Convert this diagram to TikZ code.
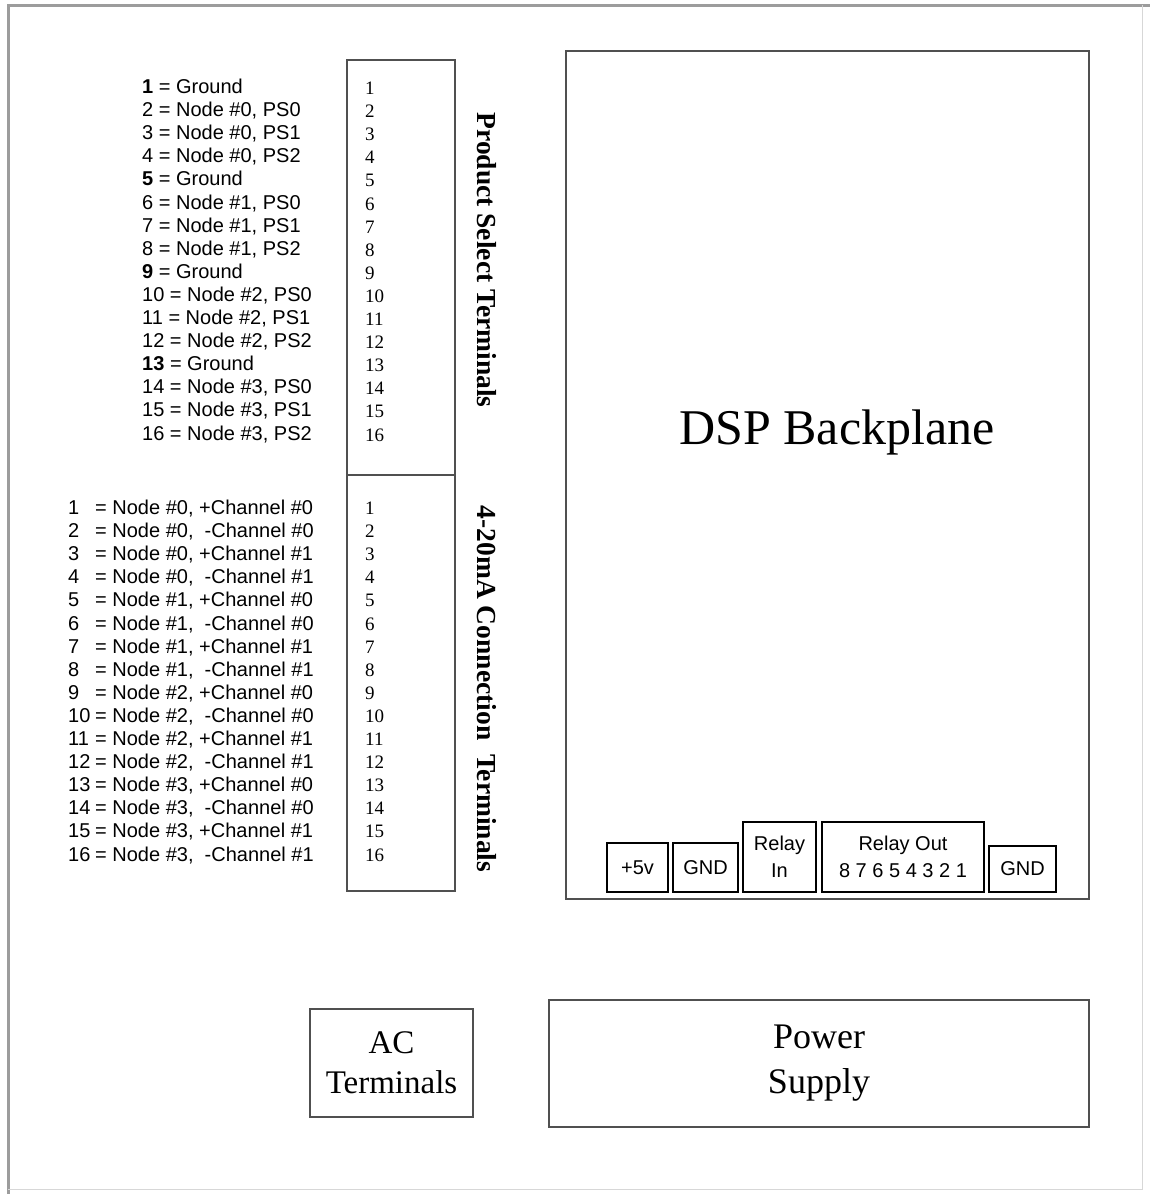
\documentclass[tikz,border=0pt]{standalone}
\usepackage{fontspec}
\setmainfont{Liberation Serif}
\setsansfont{Liberation Sans}
\usepackage{tikz}
\definecolor{framegray}{HTML}{9C9C9C}
\definecolor{boxgray}{HTML}{505050}
\begin{document}
\begin{tikzpicture}[x=1pt,y=-1pt,
  term/.style={draw=boxgray,line width=2pt,inner sep=0pt},
  pinbox/.style={draw=black,line width=1.8pt,inner sep=0pt,align=center,font=\sffamily\fontsize{20}{27}\selectfont},
  lbl/.style={anchor=west,inner sep=0pt,text height=13pt,text depth=4pt,font=\sffamily\fontsize{20}{23}\selectfont},
  num/.style={anchor=west,inner sep=0pt,text height=13pt,text depth=4pt,font=\fontsize{19}{23}\selectfont},
  title/.style={rotate=-90,inner sep=0pt,font=\bfseries\fontsize{27.5}{30}\selectfont}
]
\useasboundingbox (0,0) rectangle (1150,1194);
% outer frame
\draw[framegray,line width=3pt] (1150,5) -- (8,5) -- (8,1194);
\draw[framegray!40,line width=1pt] (1142,5) -- (1142,1189) -- (8,1189);

% terminal blocks
\node[term,minimum width=108pt,minimum height=415pt] (psbox) at (401,267.5) {};
\node[term,minimum width=108pt,minimum height=416pt] (mabox) at (401,683) {};
\node[title] (pstitle) at (487,260) {Product Select Terminals};
\node[title] (matitle) at (487,689) {4-20mA Connection\ \ Terminals};
\foreach \i in {1,...,16}{
  \node[num] (psn\i) at (365,{90+23.1*(\i-1)}) {\i};
  \node[num] (man\i) at (365,{510+23.1*(\i-1)}) {\i};
}

% product select legend
\foreach \k in {0,...,3}{
  \pgfmathtruncatemacro{\grow}{4*\k+1}
  \node[lbl] (gnd\grow) at (142,{89+23.1*(\grow-1)}) {\textbf{\grow} = Ground};
  \foreach \p in {0,1,2}{
    \pgfmathtruncatemacro{\prow}{\grow+1+\p}
    \node[lbl] (ps\prow) at (142,{89+23.1*(\prow-1)}) {\prow{} = Node \#\k, PS\p};
  }
}

% 4-20mA legend
\foreach \k in {0,...,3}{
  \foreach \c in {0,1}{
    \pgfmathtruncatemacro{\prow}{4*\k+2*\c+1}
    \pgfmathtruncatemacro{\mrow}{\prow+1}
    \node[lbl] (pn\prow) at (68,{510+23.1*(\prow-1)}) {\prow};
    \node[lbl] (pc\prow) at (95,{510+23.1*(\prow-1)}) {= Node \#\k, +Channel \#\c};
    \node[lbl] (pn\mrow) at (68,{510+23.1*(\mrow-1)}) {\mrow};
    \node[lbl] (pc\mrow) at (95,{510+23.1*(\mrow-1)}) {= Node \#\k,~~-Channel \#\c};
  }
}

% backplane
\node[term,line width=2.5pt,minimum width=523pt,minimum height=848pt] (dsp) at (827.5,475) {};
\node[font=\fontsize{50}{55}\selectfont] (dsptext) at (837,432) {DSP Backplane};
\node[pinbox,minimum width=61pt,minimum height=49pt] (vcc) at (637.5,867.5) {+5v};
\node[pinbox,minimum width=65pt,minimum height=49pt] (gnda) at (705.5,867.5) {GND};
\node[pinbox,minimum width=73pt,minimum height=70pt] (rin) at (779.5,857) {Relay\\In};
\node[pinbox,minimum width=162pt,minimum height=70pt] (rout) at (903,857) {Relay Out\\8 7 6 5 4 3 2 1};
\node[pinbox,minimum width=67pt,minimum height=46pt] (gndb) at (1022.5,869) {GND};

% supply side
\node[term,minimum width=163pt,minimum height=108pt,align=center,font=\fontsize{33}{40}\selectfont] (ac) at (391.5,1063) {AC\\Terminals};
\node[term,minimum width=540pt,minimum height=127pt,align=center,font=\fontsize{36}{45}\selectfont] (psu) at (819,1063.5) {Power\\Supply};
\end{tikzpicture}
\end{document}
